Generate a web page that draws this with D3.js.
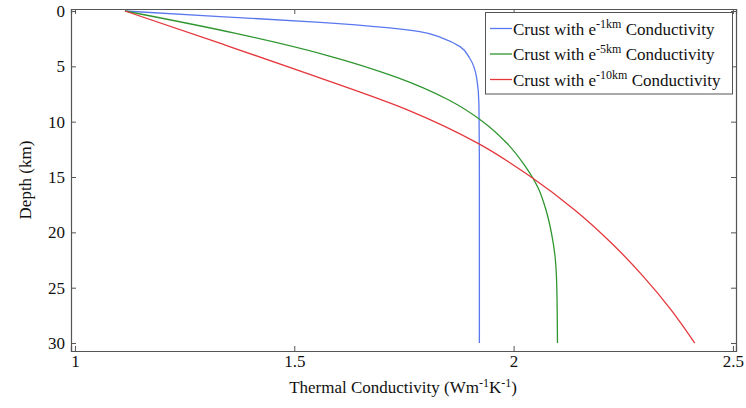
<!DOCTYPE html>
<html>
<head>
<meta charset="utf-8">
<script src="https://cdn.jsdelivr.net/npm/d3@7"></script>
<style>
  html, body { margin: 0; padding: 0; background: #fff; }
  svg { display: block; }
</style>
</head>
<body>
<svg id="chart" width="746" height="408"></svg>
<script>
// Thermal conductivity profiles with depth for three crustal decay lengths
const depthBlue = [0, 0.51, 1.02, 1.51, 1.87, 2.47, 3.22, 4.27, 6.08, 8.49, 15, 30];
const condBlue  = [1.114, 1.331, 1.559, 1.711, 1.786, 1.839, 1.878, 1.900, 1.916, 1.921, 1.922, 1.922];

const depthGreen = [0, 2, 4, 6, 8, 10, 12, 14, 16, 18, 20, 22, 25, 30];
const condGreen  = [1.114, 1.364, 1.574, 1.734, 1.850, 1.930, 1.986, 2.026, 2.056, 2.074, 2.086, 2.094, 2.0985, 2.100];

const depthRed = [0, 3, 6, 9, 12, 15, 18, 21, 24, 27, 30];
const condRed  = [1.114, 1.337, 1.555, 1.762, 1.921, 2.040, 2.140, 2.224, 2.296, 2.359, 2.413];

const seriesNames = ["-1km", "-5km", "-10km"];
const seriesColors = ["#5a78ee", "#2f962f", "#e5373c"];

const xTicks = [1, 1.5, 2, 2.5];
const yTicks = [0, 5, 10, 15, 20, 25, 30];

const series = [
  { sup: seriesNames[0], color: seriesColors[0], depth: depthBlue, cond: condBlue },
  { sup: seriesNames[1], color: seriesColors[1], depth: depthGreen, cond: condGreen },
  { sup: seriesNames[2], color: seriesColors[2], depth: depthRed, cond: condRed }
];

const FONT = "'Liberation Serif', 'Times New Roman', Times, serif";
const TEXT_COLOR = "#111";

const svg = d3.select("#chart");
const box = { left: 71, right: 736, top: 9, bottom: 351 };

const x = d3.scaleLinear().domain([0.991, 2.507]).range([box.left, box.right]);
const y = d3.scaleLinear().domain([-0.18, 30.72]).range([box.top, box.bottom]);

const axisColor = "#555";
const tickLen = 5;

// axes with inward ticks on all four sides
const gx = svg.append("g").attr("transform", `translate(0,${box.bottom})`)
  .call(d3.axisBottom(x).tickValues(xTicks).tickFormat(d3.format("")).tickSize(-tickLen).tickPadding(4));
const gxTop = svg.append("g").attr("transform", `translate(0,${box.top})`)
  .call(d3.axisTop(x).tickValues(xTicks).tickFormat("").tickSize(-tickLen));
const gy = svg.append("g").attr("transform", `translate(${box.left},0)`)
  .call(d3.axisLeft(y).tickValues(yTicks).tickSize(-tickLen).tickPadding(6));
const gyRight = svg.append("g").attr("transform", `translate(${box.right},0)`)
  .call(d3.axisRight(y).tickValues(yTicks).tickFormat("").tickSize(-tickLen));

[gx, gxTop, gy, gyRight].forEach(g => {
  g.attr("font-family", FONT);
  g.select(".domain").attr("stroke", axisColor).attr("stroke-width", 1.2);
  g.selectAll(".tick line").attr("stroke", axisColor).attr("stroke-width", 1);
  g.selectAll(".tick text").attr("font-size", 17).attr("fill", TEXT_COLOR)
    .attr("font-family", FONT);
});

// profile curves
const line = d3.line()
  .x(d => x(d[1]))
  .y(d => y(d[0]))
  .curve(d3.curveMonotoneY);

series.forEach(s => {
  const pts = s.depth.map((dv, i) => [dv, s.cond[i]]);
  svg.append("path")
    .datum(pts)
    .attr("fill", "none")
    .attr("stroke", s.color)
    .attr("stroke-width", 1.3)
    .attr("d", line);
});

// legend
const lg = svg.append("g").attr("font-family", FONT);
lg.append("rect")
  .attr("x", 485.5).attr("y", 12.5).attr("width", 247).attr("height", 81.5)
  .attr("fill", "#fff").attr("stroke", axisColor).attr("stroke-width", 1);
series.forEach((s, i) => {
  const cy = 28.5 + i * 25.5;
  lg.append("line")
    .attr("x1", 490).attr("x2", 512).attr("y1", cy).attr("y2", cy)
    .attr("stroke", s.color).attr("stroke-width", 1.3);
  const t = lg.append("text").attr("x", 513).attr("y", cy + 6)
    .attr("font-size", 17).attr("fill", TEXT_COLOR).attr("font-family", FONT);
  t.append("tspan").text("Crust with e");
  t.append("tspan").attr("dy", -7).attr("font-size", 12).text(s.sup);
  t.append("tspan").attr("dy", 7).text(" Conductivity");
});

// axis titles
const xt = svg.append("text")
  .attr("x", 403).attr("y", 393).attr("text-anchor", "middle")
  .attr("font-size", 17).attr("fill", TEXT_COLOR).attr("font-family", FONT);
xt.append("tspan").text("Thermal Conductivity (Wm");
xt.append("tspan").attr("dy", -6).attr("font-size", 12).text("-1");
xt.append("tspan").attr("dy", 6).text("K");
xt.append("tspan").attr("dy", -6).attr("font-size", 12).text("-1");
xt.append("tspan").attr("dy", 6).text(")");

svg.append("text")
  .attr("transform", "translate(31,180) rotate(-90)")
  .attr("text-anchor", "middle").attr("font-size", 17)
  .attr("fill", TEXT_COLOR).attr("font-family", FONT)
  .text("Depth (km)");
</script>
</body>
</html>
